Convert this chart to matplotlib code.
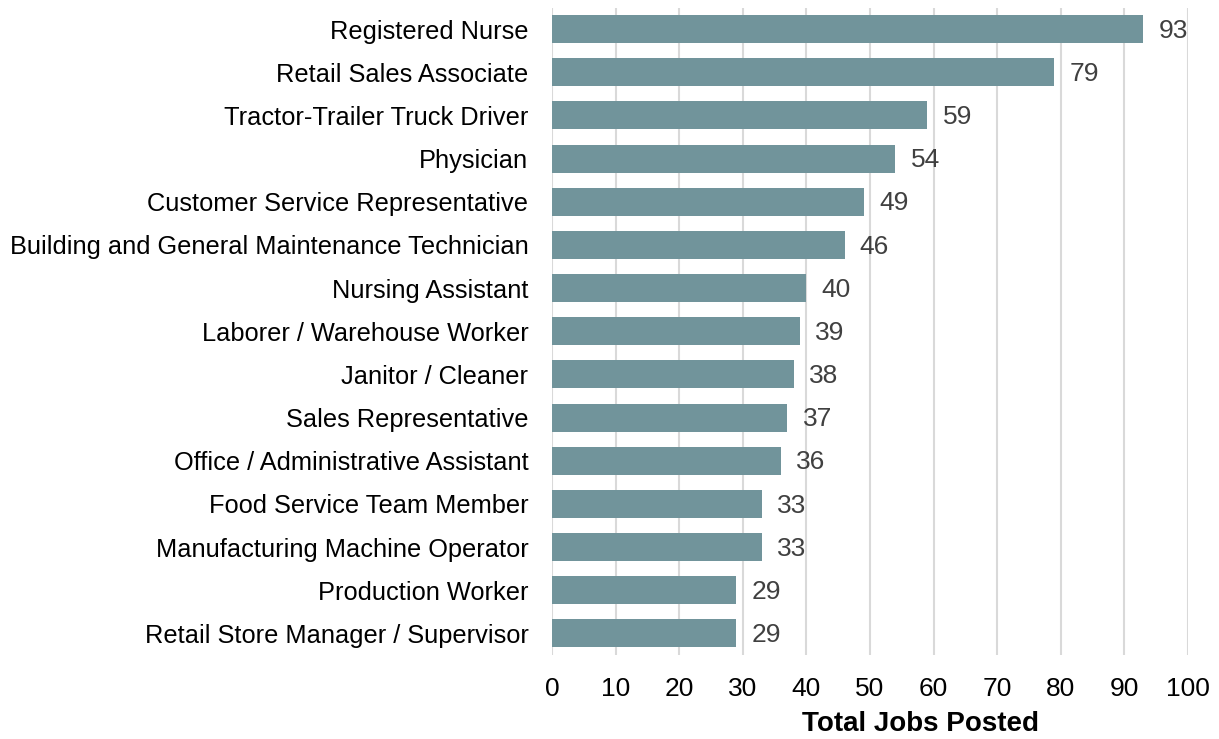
import matplotlib
matplotlib.use("Agg")
import matplotlib.pyplot as plt

categories = [
    "Registered Nurse",
    "Retail Sales Associate",
    "Tractor-Trailer Truck Driver",
    "Physician",
    "Customer Service Representative",
    "Building and General Maintenance Technician",
    "Nursing Assistant",
    "Laborer / Warehouse Worker",
    "Janitor / Cleaner",
    "Sales Representative",
    "Office / Administrative Assistant",
    "Food Service Team Member",
    "Manufacturing Machine Operator",
    "Production Worker",
    "Retail Store Manager / Supervisor",
]
values = [93, 79, 59, 54, 49, 46, 40, 39, 38, 37, 36, 33, 33, 29, 29]
xticks = list(range(0, 101, 10))

plt.rcParams['font.family'] = ['Liberation Sans', 'DejaVu Sans']

fig = plt.figure(figsize=(12.19, 7.39), dpi=100)
ax = fig.add_axes([552/1219, 1 - 655/739, (1188-552)/1219, (655-7.5)/739])

y = list(range(len(categories)))
ax.barh(y, values, height=0.65, color="#71949B", zorder=3)
for yi, v in zip(y, values):
    ax.text(v + 2.4, yi + 0.04, str(v), va="center", ha="left", fontsize=19, color="#404040")

ax.set_ylim(len(categories) - 0.5, -0.5)
ax.set_xlim(0, 100)
ax.set_yticks(y)
ax.set_yticklabels(categories, fontsize=18.3)
ax.set_xticks(xticks)
ax.set_xticklabels([str(t) for t in xticks], fontsize=19)
ax.tick_params(axis="both", length=0)
ax.tick_params(axis="y", pad=17)
ax.tick_params(axis="x", pad=16)
ax.grid(axis="x", color="#D9D9D9", linewidth=1.5, zorder=0)
for s in ax.spines.values():
    s.set_visible(False)
ax.set_xlabel("Total Jobs Posted", fontsize=20, fontweight="bold")
ax.xaxis.set_label_coords((920 - 552) / 636, (655 - 724) / 647.5)
ax.xaxis.label.set_va("center")

fig.savefig("out.png", dpi=100)
